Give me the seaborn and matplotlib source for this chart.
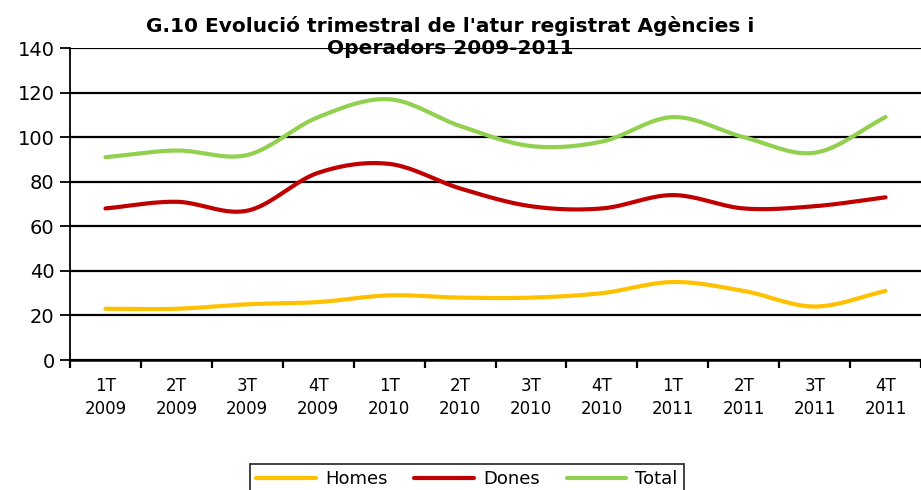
import numpy as np
import pandas as pd
import matplotlib
matplotlib.use("Agg")
import matplotlib.pyplot as plt
import seaborn as sns
from matplotlib.lines import Line2D

categories = ["1T\n2009", "2T\n2009", "3T\n2009", "4T\n2009",
              "1T\n2010", "2T\n2010", "3T\n2010", "4T\n2010",
              "1T\n2011", "2T\n2011", "3T\n2011", "4T\n2011"]
homes = [23, 23, 25, 26, 29, 28, 28, 30, 35, 31, 24, 31]
dones = [68, 71, 67, 84, 88, 77, 69, 68, 74, 68, 69, 73]
total = [91, 94, 92, 109, 117, 105, 96, 98, 109, 100, 93, 109]
series_names = ["Homes", "Dones", "Total"]
colors = ["#FFC000", "#C00000", "#92D050"]
title = "G.10 Evolució trimestral de l'atur registrat Agències i\nOperadors 2009-2011"


def smooth(y, n=20):
    # Excel-style smoothed line (Catmull-Rom through the data points)
    y = np.asarray(y, float)
    p = np.concatenate([[2 * y[0] - y[1]], y, [2 * y[-1] - y[-2]]])
    xs, ys = [], []
    for i in range(len(y) - 1):
        p0, p1, p2, p3 = p[i], p[i + 1], p[i + 2], p[i + 3]
        t = np.linspace(0, 1, n, endpoint=(i == len(y) - 2))
        yy = 0.5 * ((2 * p1) + (-p0 + p2) * t + (2 * p0 - 5 * p1 + 4 * p2 - p3) * t ** 2
                    + (-p0 + 3 * p1 - 3 * p2 + p3) * t ** 3)
        xs.append(i + t)
        ys.append(yy)
    return np.concatenate(xs), np.concatenate(ys)


rows = []
for name, vals in zip(series_names, [homes, dones, total]):
    xs, ys = smooth(vals)
    rows.append(pd.DataFrame({"x": xs, "y": ys, "serie": name}))
df = pd.concat(rows, ignore_index=True)

sns.set_style("white")
plt.rcParams["font.family"] = ["DejaVu Sans"]
plt.rcParams["text.color"] = "black"
plt.rcParams["xtick.color"] = "black"
plt.rcParams["ytick.color"] = "black"
plt.rcParams["xtick.labelcolor"] = "black"
plt.rcParams["ytick.labelcolor"] = "black"

fig = plt.figure(figsize=(9.21, 4.90), dpi=100)
ax = fig.add_axes([70 / 921, 1 - 360 / 490, 1 - 70 / 921, (360 - 48) / 490])

sns.lineplot(data=df, x="x", y="y", hue="serie", palette=colors,
             hue_order=series_names, linewidth=3, ax=ax, legend=False)

ax.set_xlim(-0.5, 11.5)
ax.set_ylim(0, 140)
ax.set_yticks(np.arange(0, 141, 20))
ax.yaxis.grid(True, color="black", linewidth=1.6)
ax.xaxis.grid(False)
ax.set_axisbelow(True)
ax.tick_params(axis="y", labelsize=14, length=7, width=1.3, direction="out",
               color="black", labelcolor="black", left=True, pad=4)
ax.set_xticks(np.arange(-0.5, 11.6, 1.0))
ax.set_xticklabels([])
ax.set_xticks(np.arange(12), minor=True)
ax.set_xticklabels(categories, minor=True, fontsize=12, linespacing=1.35,
                   color="black")
ax.tick_params(axis="x", which="major", length=6, width=1.6, direction="out",
               color="black", bottom=True)
ax.tick_params(axis="x", which="minor", length=0, pad=12)
ax.set_xlabel("")
ax.set_ylabel("")
for s in ["top", "right"]:
    ax.spines[s].set_visible(False)
ax.spines["left"].set_color("black")
ax.spines["left"].set_linewidth(1.3)
ax.spines["bottom"].set_color("black")
ax.spines["bottom"].set_linewidth(1.8)

fig.text(0.489, 1 - 37 / 490, title, ha="center", va="center",
         fontsize=14.5, fontweight="bold", linespacing=1.2, color="black")

handles = [Line2D([0], [0], color=c, linewidth=3) for c in colors]
leg = fig.legend(handles, series_names, loc="upper center",
                 bbox_to_anchor=(467 / 921, 1 - 455 / 490), ncol=3,
                 fontsize=13, frameon=True, fancybox=False,
                 edgecolor="black", handlelength=3.3, columnspacing=1.5,
                 borderpad=0.35, handletextpad=0.5)
leg.get_frame().set_linewidth(1.3)
for t in leg.get_texts():
    t.set_color("black")

fig.savefig("out.png", dpi=100)
